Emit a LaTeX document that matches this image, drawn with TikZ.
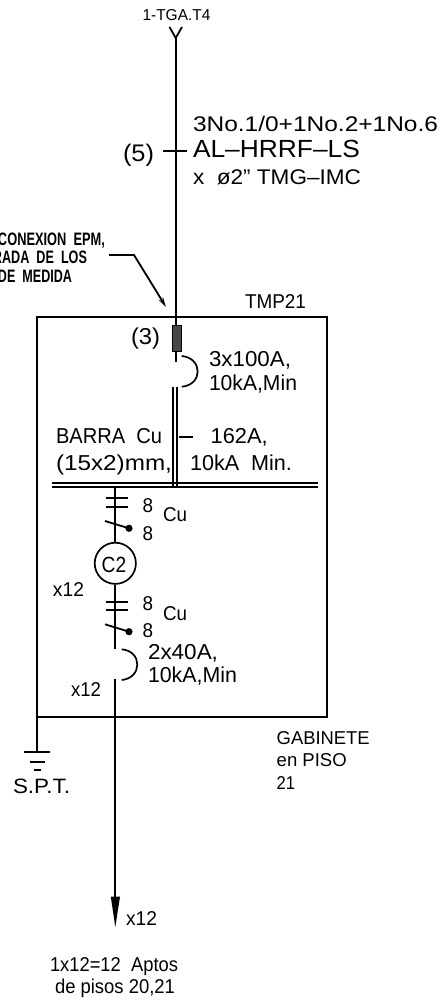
\documentclass[tikz,border=0pt]{standalone}
\usepackage{graphicx}
\usepackage{fontspec}
\usetikzlibrary{arrows.meta}
\setmainfont{Liberation Sans}
\newdimen\upx \upx=0.5pt
\newcommand\lb[7][base west]{\node[lab,anchor=#1] (#2) at (#3,#4) {\resizebox{#5\upx}{\height}{\fontsize{#6pt}{#6pt}\selectfont #7}};}
\tikzset{
  lab/.style={inner sep=0pt,outer sep=0pt,text=black},
  wire/.style={draw=black,line width=1.05pt},
  thinwire/.style={draw=black,line width=0.9pt},
  boxline/.style={draw=black,line width=0.95pt},
  breaker/.style={draw=black,line width=0.85pt}
}
\begin{document}
\begin{tikzpicture}[x=0.5pt,y=-0.5pt]
\useasboundingbox (0,0) rectangle (442,1000);
\clip (0,0) rectangle (442,1000);
\fill[white] (0,0) rectangle (442,1000);
% coordinates
\coordinate (yl) at (169.5,27);
\coordinate (yr) at (182,27);
\coordinate (yj) at (175.7,38);
\coordinate (fT) at (175.7,325);
\coordinate (fB) at (175.7,362);
\coordinate (boxTL) at (36.7,316.7);
\coordinate (boxBR) at (327,716.7);
\coordinate (boxBL) at (36.7,716.7);
\coordinate (tl) at (163,150.7);
\coordinate (tr) at (187,150.7);
\coordinate (ld1) at (109,255);
\coordinate (ld2) at (134,255);
\coordinate (ld3) at (166,307);
% box
\draw[boxline] (boxTL) rectangle (boxBR);
% feeder
\draw[wire] (yj) -- (fT);
\draw[thinwire] (yl) -- (yj) -- (yr);
\draw[thinwire] (tl) -- (tr);
\draw[thinwire,-{Stealth[length=5pt,width=2.5pt]}] (ld1) -- (ld2) -- (ld3);
% fuse
\node[draw=black,fill=black!72,line width=0.5pt,minimum width=4.6pt,minimum height=13.2pt,inner sep=0pt,anchor=north] (fuse) at (176.8,325) {};
\draw[wire] (fT |- fuse.south) -- (fB);
% main breaker
\coordinate (a1) at (181.7,356);
\coordinate (a2) at (181.7,386.7);
\draw[breaker] (a1) .. controls (203,358) and (203,385) .. (a2);
% double riser
\coordinate (r1t) at (172.7,386.7);
\coordinate (r1b) at (172.7,486);
\coordinate (r2t) at (176.8,386.7);
\coordinate (r2b) at (176.8,486);
\draw[thinwire] (r1t) -- (r1b);
\draw[thinwire] (r2t) -- (r2b);
% busbar
\coordinate (b1l) at (52,483);
\coordinate (b1r) at (317.7,483);
\coordinate (b2l) at (52,486.7);
\coordinate (b2r) at (317.7,486.7);
\draw[thinwire] (b1l) -- (b1r);
\draw[thinwire] (b2l) -- (b2r);
% branch
\node[draw=black,line width=0.85pt,circle,minimum size=20.6pt,inner sep=0pt] (c2) at (115.3,563.3) {};
\lb{c2t}{101.7}{572.7}{24.5}{11}{C2}
\coordinate (brT) at (115.3,486);
\coordinate (brB) at (115.3,648.5);
\draw[thinwire] (brT) -- (c2.north);
\draw[thinwire] (c2.south) -- (brB);
\foreach \nm/\yy in {t1/498.3,t2/506.7,t3/601.7,t4/610}{
  \coordinate (\nm l) at (105.5,\yy);
  \coordinate (\nm r) at (127.7,\yy);
  \draw[thinwire] (\nm l) -- (\nm r);
}
\foreach \nm/\ya/\yb in {s1/521/528.3,s2/624.3/631.7}{
  \coordinate (\nm a) at (105,\ya);
  \node[circle,fill=black,minimum size=3.6pt,inner sep=0pt] (\nm d) at (129,\yb) {};
  \draw[thinwire] (\nm a) -- (\nm d.center);
}
% branch breaker
\coordinate (a3) at (121.7,649.3);
\coordinate (a4) at (121.7,680);
\draw[breaker] (a3) .. controls (142.5,651) and (142.5,678) .. (a4);
% outgoing
\coordinate (oT) at (115.3,679.3);
\coordinate (oB) at (115.3,898);
\coordinate (tip) at (115.3,927);
\draw[thinwire] (oT) -- (oB);
\fill[black] (110.8,896.7) -- (120,896.7) -- (tip) -- cycle;
% ground
\coordinate (g1) at (36.7,752);
\draw[boxline] (boxBL) -- (g1);
\foreach \nm/\xa/\xb/\yy in {ga/24/50/752,gb/30/45/761.7,gc/34/41/770}{
  \coordinate (\nm l) at (\xa,\yy);
  \coordinate (\nm r) at (\xb,\yy);
  \draw[thinwire] (\nm l) -- (\nm r);
}
% dash beside the bar
\coordinate (d1) at (179,436.7);
\coordinate (d2) at (193,436.7);
\draw[thinwire] (d1) -- (d2);
% texts
\lb{t01}{142.5}{20.7}{68}{7.9}{1-TGA.T4}
\lb{t02}{193}{131.6}{245}{10.6}{3No.1/0+1No.2+1No.6}
\lb{t03}{193}{157.7}{167}{12.4}{AL–HRRF–LS}
\lb{t04}{193}{185}{168}{10.6}{x\ \ ø2” TMG–IMC}
\lb{t05}{123}{162}{31}{12}{(5)}
\lb[base east]{t06}{105}{245}{107}{9}{\bfseries CONEXION\ \ EPM,}
\lb[base east]{t07}{87}{263.7}{94}{9}{\bfseries RADA\ \ DE\ \ LOS}
\lb[base east]{t08}{72}{282.7}{74}{9}{\bfseries DE\ \ MEDIDA}
\lb{t09}{245}{308}{61}{10}{TMP21}
\lb{t10}{131}{344.3}{29}{11.5}{(3)}
\lb{t11}{209}{366}{82}{10.8}{3x100A,}
\lb{t12}{209}{390}{88}{10.8}{10kA,Min}
\lb{t13}{56}{443}{106}{10.8}{BARRA\ \ Cu}
\lb{t14}{210.7}{443}{57}{10.8}{162A,}
\lb{t15}{56}{470}{116}{10.8}{(15x2)mm,}
\lb{t16}{190}{470}{102}{10.8}{10kA\ \ Min.}
\lb{t17}{142.7}{512.3}{10.5}{10}{8}
\lb{t18}{163}{521}{24}{10}{Cu}
\lb{t19}{142.7}{540}{10.5}{10}{8}
\lb{t20}{53}{596.7}{31}{10}{x12}
\lb{t21}{142.7}{610}{10.5}{10}{8}
\lb{t22}{163}{620.7}{24}{10}{Cu}
\lb{t23}{142.7}{637.7}{10.5}{10}{8}
\lb{t24}{148}{659}{70}{10.8}{2x40A,}
\lb{t25}{148}{682}{89}{10.8}{10kA,Min}
\lb{t26}{71}{696.7}{30}{10}{x12}
\lb{t27}{276.7}{744}{93}{9.3}{GABINETE}
\lb{t28}{276.7}{766.7}{70}{9.3}{en PISO}
\lb{t29}{276.7}{789}{18.5}{9.3}{21}
\lb{t30}{13}{793.3}{57}{10.4}{S.P.T.}
\lb{t31}{126}{925}{31}{10}{x12}
\lb{t32}{50}{971.7}{128}{10}{1x12=12\ \ Aptos}
\lb{t33}{55}{993}{120}{10}{de pisos 20,21}
\end{tikzpicture}
\end{document}
